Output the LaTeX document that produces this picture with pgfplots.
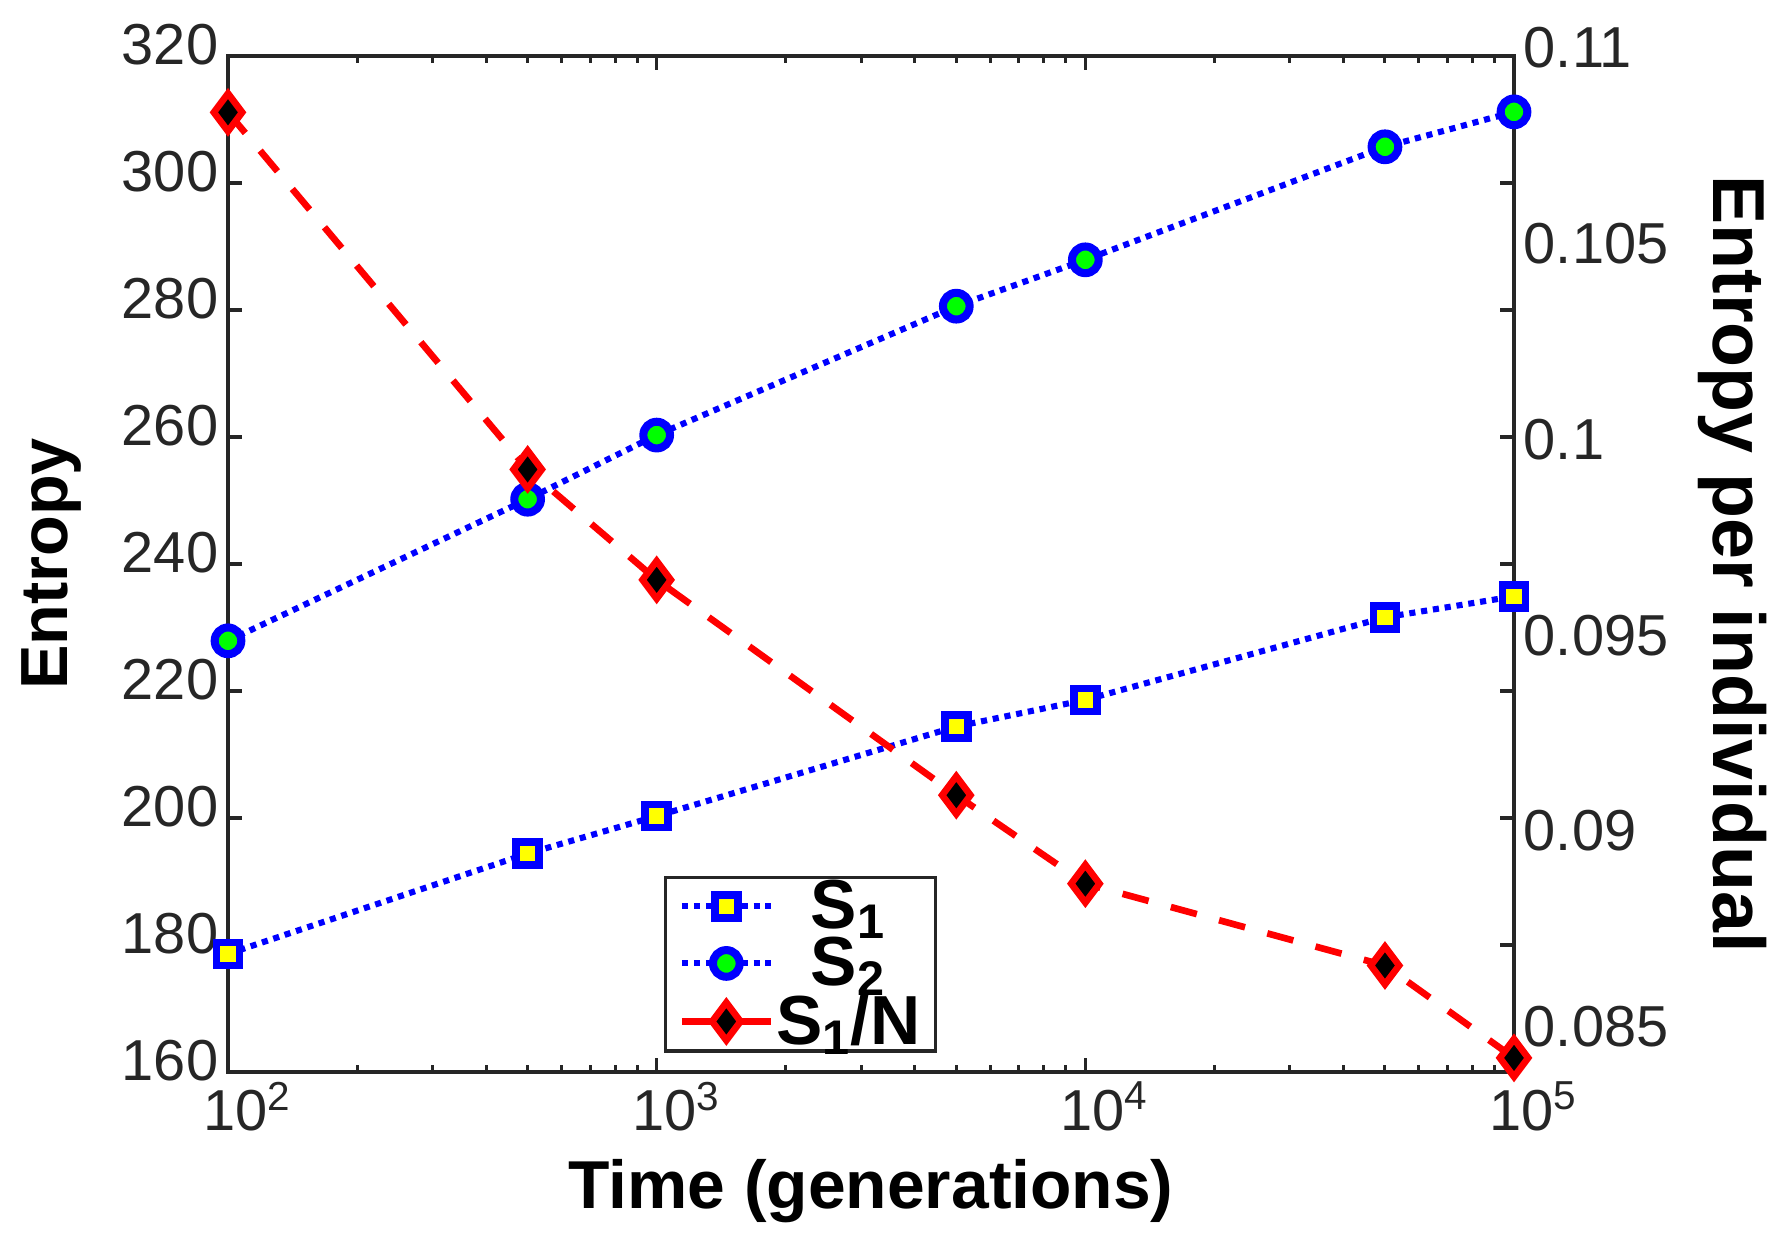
\documentclass[border=0pt]{standalone}
\usepackage{fontspec}
\setmainfont{Liberation Sans}
\usepackage{pgfplots}
\pgfplotsset{compat=1.18}
\definecolor{axgray}{RGB}{38,38,38}
\definecolor{mblue}{RGB}{0,0,255}
\definecolor{myellow}{RGB}{255,255,0}
\definecolor{mgreen}{RGB}{0,255,0}
\definecolor{mred}{RGB}{255,0,0}
\begin{document}
\begin{tikzpicture}
\begin{axis}[
  scale only axis, width=462.96pt, height=365.76pt,
  at={(0,0)}, anchor=south west,
  xmode=log, xmin=100, xmax=100000,
  clip=false,
  axis line style={axgray, line width=1.2pt},
  every tick/.style={axgray, line width=1.1pt},
  major tick length=5pt, minor tick length=2.5pt,
  tick align=inside,
  tick label style={font=\fontsize{20.8}{24}\selectfont, text=axgray},
  /pgf/number format/assume math mode=true,
  ymin=160, ymax=320, ytick={160,180,...,320},
  xtick={100,1000,10000,100000},
  xticklabels={10\textsuperscript{2},10\textsuperscript{3},10\textsuperscript{4},10\textsuperscript{5}},
  minor xtick={200,300,400,500,600,700,800,900,2000,3000,4000,5000,6000,7000,8000,9000,20000,30000,40000,50000,60000,70000,80000,90000},
  xticklabel style={xshift=7pt},
  yticklabel style={yshift=4pt},
  xlabel={Time (generations)}, ylabel={Entropy},
  xlabel style={at={(axis description cs:0.5,-0.117)}, anchor=center, font=\bfseries\fontsize{24.4}{28}\selectfont},
  ylabel style={at={(axis description cs:-0.137,0.5)}, anchor=center, font=\bfseries\fontsize{24}{28}\selectfont},
  legend cell align=center,
  legend image code/.code={\draw[mark repeat=2,mark phase=2,#1] plot coordinates {(0pt,0pt) (16pt,0pt) (32pt,0pt)};},
  legend style={at={(axis description cs:0.339,0.1928)}, anchor=north west,
    draw=axgray, line width=1.2pt, fill=white,
    font=\bfseries\fontsize{25}{25}\selectfont,
    inner xsep=4.7pt, inner ysep=0pt, row sep=0pt, column sep=0pt,
    nodes={inner sep=0.8pt}},
]
\addplot[mblue, line width=2.2pt, dash pattern=on 2.2pt off 2.1pt,
    mark=square*, mark size=4.15pt,
    mark options={solid, fill=myellow, draw=mblue, line width=2.7pt}]
  coordinates {(100,178.6) (500,194.4) (1000,200.3) (5000,214.4) (10000,218.6) (50000,231.6) (100000,234.9)};
\addlegendentry{S\textsubscript{1}}
\addplot[mblue, line width=2.2pt, dash pattern=on 2.2pt off 2.1pt,
    mark=*, mark size=4.8pt,
    mark options={solid, fill=mgreen, draw=mblue, line width=2.9pt}]
  coordinates {(100,227.9) (500,250.2) (1000,260.3) (5000,280.6) (10000,287.9) (50000,305.7) (100000,311.2)};
\addlegendentry{S\textsubscript{2}}
\addlegendimage{mred, line width=2.3pt, solid, mark=diamond*, mark size=6.8pt,
    mark options={solid, fill=black, draw=mred, line width=2.4pt}}
\addlegendentry{S\textsubscript{1}/N}
\end{axis}
\begin{axis}[
  scale only axis, width=462.96pt, height=365.76pt,
  at={(0,0)}, anchor=south west,
  xmode=log, xmin=100, xmax=100000,
  clip=false,
  tick label style={font=\fontsize{20.8}{24}\selectfont, text=axgray},
  /pgf/number format/assume math mode=true,
  axis x line=none, axis y line*=right,
  ymin=0.08413, ymax=0.11008,
  ytick={0.085,0.09,0.095,0.1,0.105,0.11},
  yticklabels={0.085,0.09,0.095,0.1,0.105,0.11},
  major tick length=0pt, minor tick length=0pt,
  y axis line style={draw=none},
  yticklabel style={yshift=4pt},
  ylabel={Entropy per individual},
  ylabel style={rotate=180, at={(axis description cs:1.1703,0.5)}, anchor=center, font=\bfseries\fontsize{26.5}{30}\selectfont},
]
\addplot[mred, line width=2.4pt, dash pattern=on 9.7pt off 8.3pt,
    mark=diamond*, mark size=6.8pt,
    mark options={solid, fill=black, draw=mred, line width=2.4pt}]
  coordinates {(100,0.10864) (500,0.09952) (1000,0.09670) (5000,0.09120) (10000,0.08894) (50000,0.08685) (100000,0.08449)};
\end{axis}
\pgfresetboundingbox
\useasboundingbox (-82.08pt,-60.84pt) rectangle (555.12pt,385.92pt);
\end{tikzpicture}
\end{document}
